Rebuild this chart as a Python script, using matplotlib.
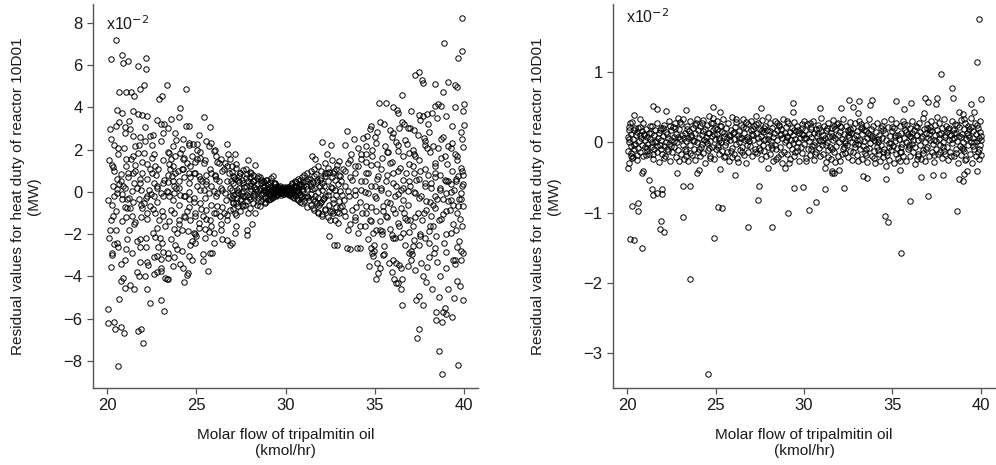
import matplotlib.pyplot as plt
import numpy as np

plt.rcParams["font.family"] = ["Liberation Sans", "DejaVu Sans"]

# residuals in units of 1e-2 MW
LEFT_OUTER = [
    (20.47, 7.17), (20.19, 6.26), (20.80, 6.47), (20.89, 6.07), (21.17, 6.18), (21.70, 5.95),
    (22.18, 6.31), (22.18, 5.79), (20.63, 4.70), (21.03, 4.70), (21.32, 4.70), (21.51, 4.54),
    (21.85, 4.84), (22.04, 5.03), (20.54, 3.88), (20.84, 3.74), (20.48, 3.11), (20.17, 2.95),
    (21.00, 3.07), (21.21, 3.33), (21.30, 2.98), (21.70, 3.66), (21.94, 3.61), (22.10, 3.07),
    (21.45, 2.65), (21.83, 2.58), (22.09, 2.39), (22.39, 2.63), (22.90, 4.40), (23.05, 4.53),
    (23.34, 5.03), (24.44, 4.84), (24.10, 3.94), (24.03, 3.56), (23.58, 3.46), (22.80, 3.39),
    (23.00, 3.23), (23.20, 3.23), (23.10, 2.79), (24.40, 3.13), (24.58, 3.10), (25.40, 3.54),
    (25.76, 3.07), (25.16, 2.71), (20.35, 2.20), (20.60, 2.05), (20.95, 2.05), (21.58, 2.16),
    (21.70, 1.84), (22.05, 1.83), (22.52, 2.20), (22.60, 1.77), (20.09, 1.51), (20.24, 1.26),
    (20.30, 1.17), (21.04, 1.53), (21.34, 1.56), (21.56, 1.29), (20.78, 0.84), (21.17, 0.87),
    (21.43, 0.90), (21.96, 0.90), (22.37, 1.06), (22.67, 1.21), (22.74, 0.82), (23.20, 0.58),
    (23.41, 0.46),
    (20.04, -0.39), (20.19, -1.31), (20.30, -1.15), (20.48, -1.78), (20.11, -2.17), (20.37, -2.46),
    (20.26, -2.88), (20.56, -2.41), (20.19, -3.54), (20.75, -3.39), (20.78, -4.19), (20.87, -4.06),
    (20.97, -4.54), (21.30, -4.41), (21.51, -4.59), (20.67, -5.06), (20.06, -5.56), (20.06, -6.19),
    (20.37, -6.14), (20.45, -6.50), (20.78, -6.38), (20.93, -6.66), (21.75, -6.58), (21.88, -6.50),
    (22.00, -7.15), (20.60, -8.24), (21.66, -3.78), (21.77, -4.00), (22.12, -3.98), (21.68, -2.33),
    (21.86, -2.25), (22.18, -2.19), (21.85, -2.60), (21.08, -2.25), (21.04, -2.69), (22.25, -3.32),
    (22.31, -3.45), (22.20, -4.59), (22.39, -5.24), (22.99, -5.09), (23.17, -5.64), (22.55, -1.94),
    (22.66, -2.13), (22.83, -2.60), (23.05, -2.41), (22.80, -3.02), (22.99, -3.17), (23.13, -2.83),
    (23.38, -3.12), (22.60, -3.89), (22.77, -3.80), (23.04, -3.72), (23.26, -4.06), (23.34, -4.14),
    (23.43, -4.11), (23.67, -3.51), (23.73, -3.09), (23.91, -2.72), (24.10, -3.43), (24.25, -3.59),
    (24.45, -3.91), (24.30, -4.28), (24.52, -3.83), (24.57, -3.04), (24.78, -3.20), (23.91, -1.94),
    (23.58, -2.25), (24.19, -1.78), (24.52, -1.86), (24.84, -1.94), (24.73, -2.33), (24.94, -2.41),
    (24.90, -2.00), (25.37, -2.96), (25.35, -3.28), (25.63, -3.72), (25.74, -2.88), (25.89, -2.88),
    (25.96, -1.94), (25.16, -1.73), (25.50, -1.75), (25.70, -1.89),
    (37.39, -6.93), (37.49, -6.50), (37.71, -5.37), (37.30, -5.09), (37.50, -4.90), (37.71, -3.96),
    (37.90, -4.27), (37.96, -3.54), (38.20, -4.59), (38.59, -4.98), (38.45, -5.67), (38.45, -6.04),
    (38.77, -6.14), (38.83, -5.69), (38.96, -5.51), (39.01, -5.75), (39.31, -5.92), (38.60, -7.53),
    (38.79, -8.63), (39.68, -8.20), (38.68, -3.96), (39.10, -4.57), (39.64, -4.22), (39.77, -4.43),
    (39.96, -5.13), (39.46, -5.01), (39.38, -3.24), (39.85, -3.23), (39.50, -3.20), (39.00, -2.82),
    (38.90, -2.41), (39.28, -1.94), (39.75, -2.33), (39.83, -2.80), (39.79, -1.26), (39.42, -1.54),
    (39.55, -1.78), (38.41, -2.65), (38.32, -2.88), (38.26, -1.62), (38.07, -1.86), (37.80, -2.19),
    (38.07, -2.41), (37.15, -2.57), (37.05, -2.80), (37.10, -2.96), (36.92, -2.88), (37.20, -2.28),
    (37.52, -1.97), (36.85, -3.51), (37.28, -3.70), (37.57, -3.36), (36.53, -4.11), (36.33, -4.30),
    (36.22, -4.33), (36.50, -4.59), (36.53, -5.36), (35.99, -3.80), (36.07, -4.11), (35.81, -3.36),
    (36.22, -3.36), (36.37, -3.48), (35.53, -2.96), (35.54, -2.57), (35.29, -3.59), (35.19, -3.83),
    (35.08, -4.14), (35.12, -3.36), (34.68, -3.51), (34.95, -2.49), (34.80, -2.65), (34.87, -2.91),
    (34.91, -3.01), (34.63, -2.25), (34.16, -2.65), (34.02, -2.65), (33.42, -2.65), (33.61, -2.72),
    (32.86, -2.49), (32.73, -2.49), (32.45, -2.09), (36.13, -2.17), (35.96, -2.02), (36.40, -2.13),
    (36.59, -1.94), (36.68, -2.52), (35.29, -1.78), (35.43, -1.83), (35.88, -1.75),
    (39.87, 8.23), (38.88, 7.02), (39.89, 6.64), (39.68, 6.34), (39.50, 5.03), (39.61, 4.97),
    (39.14, 5.20), (38.83, 4.71), (38.38, 5.12), (39.99, 4.17), (38.55, 4.17), (38.73, 4.08),
    (38.36, 4.08), (38.21, 3.72), (37.96, 3.66), (37.71, 3.58), (37.46, 3.61), (37.28, 5.52),
    (37.49, 5.66), (37.65, 5.27), (37.71, 5.14), (36.53, 4.60), (35.23, 4.21), (35.66, 4.19),
    (36.05, 4.02), (36.24, 3.86), (36.33, 3.73), (37.05, 3.81), (35.32, 3.29), (34.82, 3.10),
    (34.72, 2.99), (34.58, 2.63), (35.15, 2.82), (35.88, 2.91), (36.00, 2.79), (36.38, 3.02),
    (36.67, 3.23), (36.87, 3.02), (36.72, 2.47), (37.22, 2.90), (37.44, 2.69), (37.74, 2.55),
    (38.07, 2.82), (38.83, 2.58), (39.14, 2.16), (39.29, 2.06), (38.97, 1.69), (39.53, 1.81),
    (39.33, 3.13), (39.99, 3.18), (39.82, 2.83), (39.91, 2.50), (39.85, 1.13), (39.96, 0.82),
    (39.66, 0.74), (39.57, 0.50), (39.12, 0.50), (38.36, 1.37), (38.41, 0.90), (38.68, 0.80),
    (38.92, 0.58), (38.56, 2.08), (38.26, 2.19), (37.84, 2.20), (37.96, 2.08), (32.06, 2.38),
    (32.53, 2.20), (31.50, 1.69), (31.65, 1.56), (32.30, 1.77), (33.46, 2.87), (33.83, 2.48),
    (33.33, 2.20), (33.66, 1.81), (34.04, 2.08), (34.32, 2.55), (34.50, 2.16), (34.54, 1.81),
    (34.86, 1.69), (35.05, 2.29), (35.56, 2.16), (35.69, 1.88), (36.18, 2.35), (36.31, 1.92),
    (36.83, 2.27), (36.94, 1.84), (37.15, 2.00), (37.28, 1.69), (39.60, 1.69),
]

LEFT_MID = [
    (23.86, 2.47), (23.69, 2.16), (23.45, 1.84), (23.60, 1.53), (23.82, 1.69), (24.07, 1.84),
    (24.20, 2.03), (24.25, 1.53), (24.47, 1.37), (24.57, 2.32), (24.81, 2.28), (25.03, 2.28),
    (24.75, 1.69), (25.03, 1.56), (25.22, 1.59), (25.44, 1.37), (25.68, 2.16), (25.83, 2.32),
    (25.96, 1.92), (26.11, 1.69), (26.24, 1.37), (26.37, 1.56), (26.71, 2.28), (26.75, 1.81),
    (26.90, 1.56), (27.16, 1.81), (26.62, 1.37), (26.99, 1.21), (27.23, 1.13), (27.42, 0.90),
    (27.88, 1.50), (28.30, 1.29), (27.79, 1.06), (28.07, 0.90), (28.45, 0.74), (28.73, 0.50),
    (28.92, 0.58), (29.29, 0.77), (29.38, 0.43), (24.20, 1.06), (24.57, 0.90), (24.85, 0.90),
    (25.13, 0.74), (25.31, 0.50), (25.56, 0.39), (25.82, 0.90), (26.06, 0.74), (26.24, 0.50),
    (26.52, 1.06), (26.80, 0.90), (27.08, 0.74), (27.36, 0.58), (27.64, 0.43), (27.98, 0.27),
    (28.20, 0.50), (23.54, 1.09), (23.82, 0.90), (23.63, 0.74), (24.01, 0.50), (23.73, 0.27),
    (23.36, 0.03), (23.45, -0.20), (23.73, -0.05), (24.10, -0.17), (24.38, -0.20), (24.57, -0.36),
    (24.85, -0.28), (25.22, -0.52), (25.44, 0.11), (25.68, -0.05), (25.96, 0.03), (26.15, -0.05),
    (26.43, 0.11), (26.62, -0.05), (26.90, 0.19), (27.08, -0.13), (27.27, 0.11), (27.55, -0.05),
    (27.73, -0.20), (28.01, 0.03), (28.30, -0.13), (28.57, 0.11), (28.76, -0.05), (28.95, 0.19),
    (29.13, 0.03), (29.50, -0.13), (29.69, 0.11), (29.88, -0.02), (30.06, 0.19), (30.25, -0.05),
    (30.44, 0.11), (30.62, 0.03), (30.81, -0.13), (31.00, 0.27), (31.18, -0.20), (31.37, 0.43),
    (31.55, -0.36), (31.74, 0.58), (31.93, -0.52),
    (22.42, -0.68), (22.65, -0.99), (22.89, -1.31), (23.13, -1.15), (23.26, -1.62), (23.60, -0.84),
    (23.73, -1.75), (24.01, -1.31), (24.29, -1.15), (24.47, -0.91), (24.66, -1.31), (24.94, -1.15),
    (25.13, -1.46), (25.35, -1.15), (25.56, -0.84), (25.78, -1.31), (25.96, -0.99), (26.15, -0.68),
    (26.30, -1.15), (26.37, -1.54), (26.56, -0.99), (26.71, -1.31), (26.90, -0.84), (27.05, -0.52),
    (27.18, -0.99), (27.36, -0.68), (27.49, -0.36), (27.73, -0.60), (27.92, -0.99), (28.10, -1.54),
    (27.82, -1.78), (27.86, -2.06), (28.30, -0.99), (28.57, -0.68), (28.85, -0.52), (29.13, -0.36),
    (26.43, -2.25), (26.71, -2.28), (26.86, -2.49), (26.99, -2.44), (27.16, -1.94), (27.20, -1.62),
    (21.12, -0.36), (21.30, -0.76), (21.08, -0.76), (21.39, -1.15), (21.58, -1.43), (21.77, -0.36),
    (21.96, -0.76), (22.05, -0.52), (22.24, -0.99), (20.84, -0.36), (20.56, -0.05), (20.37, -0.20),
    (20.65, 0.35), (20.89, 0.27), (21.39, 0.03), (21.68, 0.19), (21.86, 0.43), (22.33, 0.11),
    (22.60, -0.20), (22.80, 0.27), (23.04, -0.05),
    (31.93, 0.58), (32.21, 0.90), (32.40, 1.13), (32.68, 0.90), (32.86, 1.29), (33.05, 0.74),
    (33.24, 1.06), (33.52, 1.37), (33.71, 0.58), (33.90, 0.90), (34.07, 1.21), (34.26, 1.53),
    (34.45, 0.50), (34.64, 0.90), (34.82, 1.29), (35.00, 0.27), (35.19, 0.74), (35.38, 1.06),
    (35.62, 0.50), (35.84, 1.37), (36.03, 0.90), (36.22, 0.27), (36.40, 1.13), (36.59, 0.58),
    (36.77, 0.90), (36.96, 0.27), (37.15, 1.21), (37.34, 0.58), (37.56, 0.98), (37.80, 0.43),
    (37.99, 0.82), (38.17, 0.19), (38.64, 0.11), (39.01, -0.05), (39.47, 0.11), (39.75, -0.36),
    (39.85, -0.33), (39.12, -0.44), (38.81, -0.36), (38.47, -0.36), (38.28, -0.60), (37.90, -0.44),
    (37.62, -0.20), (37.25, -0.05), (36.87, 0.03), (36.50, 0.11), (36.13, -0.20), (35.75, -0.05),
    (35.38, 0.11), (35.00, -0.20), (34.63, -0.05), (34.26, 0.11), (33.88, -0.13), (33.52, 0.03),
    (33.14, -0.13), (32.77, 0.11), (32.40, -0.13), (32.12, -0.36), (31.74, -0.52), (31.55, -0.76),
    (31.83, -0.99), (32.02, -1.15), (32.21, -0.84), (32.49, -1.31), (32.68, -0.99), (32.96, -1.46),
    (33.14, -0.68), (33.33, -1.15), (33.52, -1.78), (33.71, -0.84), (33.90, -1.31), (34.09, -1.94),
    (34.28, -0.99), (34.45, -1.62), (34.54, -0.68), (34.73, -1.31), (34.91, -1.94), (35.10, -0.91),
    (35.29, -1.39), (35.47, -0.68), (35.66, -1.15), (35.88, -0.52), (36.13, -0.99), (36.31, -1.46),
    (36.50, -0.76), (36.68, -1.23), (36.81, -1.31), (36.96, -1.31), (37.15, -1.62), (37.43, -0.99),
    (37.67, -1.31), (37.90, -0.84), (38.14, -1.15), (38.36, -0.76), (38.60, -1.31), (38.83, -1.07),
    (39.20, -0.84), (39.38, -0.60), (39.66, -0.68), (39.94, -0.68), (39.85, -0.05), (39.94, 0.35),
    (39.29, 0.35),
]

LEFT_FILL = [
    (20.31, 0.30), (20.28, -0.60), (20.35, 1.00), (20.52, 0.15), (20.49, -0.90), (20.55, 0.60),
    (20.81, -0.10), (20.77, 0.50), (20.83, -1.40), (21.02, 0.20), (20.98, -0.70), (21.05, 1.20),
    (21.21, -0.30), (21.18, 0.70), (21.24, -1.80), (21.51, 0.40), (21.47, -0.50), (21.53, 1.00),
    (21.49, -1.50), (21.91, 0.10), (21.88, -0.60), (21.94, 1.40), (21.90, -1.20), (22.21, 0.60),
    (22.18, -0.30), (22.24, -1.30), (22.20, 1.30), (22.51, 0.90), (22.48, -0.10), (22.54, -0.80),
    (22.50, 1.60), (22.81, 0.20), (22.78, -0.50), (22.84, 1.10), (22.80, -1.70), (23.11, 0.40),
    (23.08, -0.90), (23.14, 1.50), (23.10, -0.20), (23.41, 0.00), (23.38, 0.80), (23.44, -1.40),
    (23.40, 1.90), (23.71, 0.50), (23.68, -0.40), (23.74, -1.00), (23.70, 1.20), (24.01, 0.20),
    (23.98, 1.00), (24.04, -0.60), (24.00, -1.50), (24.31, 0.70), (24.28, -0.20), (24.34, -1.20),
    (24.30, 1.60), (24.61, 0.40), (24.58, -0.70), (24.64, 1.20), (24.60, 0.00), (24.91, 0.90),
    (24.88, -0.50), (24.94, 1.40), (24.90, -1.00), (25.21, 0.10), (25.18, 0.60), (25.24, -0.80),
    (25.20, 1.90), (25.51, 0.80), (25.48, -0.30), (25.54, -1.30), (25.50, 1.50), (25.81, 0.30),
    (25.78, 1.10), (25.84, -0.60), (25.80, -1.60), (26.11, 0.60), (26.08, -0.20), (26.14, 1.40),
    (26.10, -1.00), (26.41, 1.00), (26.38, 0.20), (26.44, -0.70), (26.40, -1.80), (26.71, 0.50),
    (26.68, -0.40), (26.74, 1.20), (26.70, -1.10),
    (33.31, 0.30), (33.28, -0.40), (33.34, 1.00), (33.30, -0.90), (33.61, 0.70), (33.58, -0.20),
    (33.64, 1.50), (33.60, -1.50), (33.91, 0.10), (33.88, 1.20), (33.94, -0.70), (33.90, -1.20),
    (34.21, 0.50), (34.18, -0.50), (34.24, 1.80), (34.20, -1.60), (34.51, 0.90), (34.48, 0.00),
    (34.54, -1.00), (34.50, 1.40), (34.81, 0.30), (34.78, -0.70), (34.84, 2.00), (34.80, -1.40),
    (35.11, 0.60), (35.08, -0.30), (35.14, 1.30), (35.10, -1.80), (35.41, 1.60), (35.38, 0.20),
    (35.44, -0.90), (35.40, -2.00), (35.71, 0.80), (35.68, -0.50), (35.74, 1.90), (35.70, -1.20),
    (36.01, 0.40), (35.98, 1.40), (36.04, -0.80), (36.00, -2.20), (36.31, 1.00), (36.28, -0.10),
    (36.34, -1.60), (36.30, 2.20), (36.61, 0.20), (36.58, 1.70), (36.64, -1.00), (36.60, -0.40),
    (36.91, 1.30), (36.88, -0.60), (36.94, 0.50), (36.90, -1.90), (37.21, 0.00), (37.18, 1.80),
    (37.24, -1.20), (37.20, 0.90), (37.51, 1.50), (37.48, -0.30), (37.54, -2.10), (37.50, 0.60),
    (37.81, 0.30), (37.78, -1.00), (37.84, 1.10), (37.80, 2.40), (38.11, 1.90), (38.08, -0.50),
    (38.14, 0.40), (38.10, -1.60), (38.41, -0.20), (38.38, 1.20), (38.44, -2.10), (38.40, 0.70),
    (38.71, 1.60), (38.68, 0.20), (38.74, -1.30), (38.70, 2.50), (39.01, 0.50), (38.98, -0.90),
    (39.04, 1.30), (39.00, -2.00), (39.31, 1.00), (39.28, -0.40), (39.34, 2.30), (39.30, 0.00),
    (39.61, -1.00), (39.58, 0.60), (39.64, 1.50), (39.60, -2.60), (39.91, 0.30), (39.88, -1.60),
    (39.94, 2.10), (39.90, 1.00),
    (20.22, 2.50), (20.18, -1.80), (20.24, -3.00), (20.62, 1.80), (20.58, -2.60), (20.64, 3.30),
    (21.02, 2.80), (20.98, -3.20), (21.04, -1.20), (21.42, 1.70), (21.38, -2.90), (21.44, 3.80),
    (21.82, -3.30), (21.78, 2.20), (21.84, 0.60), (22.22, 3.60), (22.18, -2.60), (22.24, -0.20),
    (22.62, -3.10), (22.58, 2.70), (22.64, 0.40), (23.02, 2.40), (22.98, -2.20), (23.04, -3.60),
    (23.42, 3.00), (23.38, -2.90), (23.44, 1.30), (23.82, -2.50), (23.78, 2.80), (23.84, 0.20),
    (24.22, 2.50), (24.18, -2.80), (24.24, 1.10), (24.62, -2.50), (24.58, 2.20), (24.64, 0.70),
    (25.02, 2.00), (24.98, -2.10), (25.04, 0.30), (25.52, 2.40), (25.48, -2.20), (25.54, 0.50),
    (26.02, 2.00), (25.98, -2.40), (26.04, 0.80),
    (35.02, 2.60), (34.98, -2.80), (35.52, 3.20), (35.48, -3.00), (36.02, -3.20), (35.98, 2.60),
    (36.52, 3.30), (36.48, -3.60), (37.02, -3.20), (36.98, 3.00), (37.52, 3.40), (37.48, -2.50),
    (38.02, -3.10), (37.98, 3.20), (38.52, 3.50), (38.48, -3.30), (39.02, -3.60), (38.98, 3.60),
    (39.52, 4.00), (39.48, -3.40), (39.98, -2.90), (39.95, 3.80),
]

LEFT_CORE = [
    (27.01, 0.95), (27.04, 0.40), (26.98, -0.30), (27.06, -0.80), (27.02, 0.10),
    (27.21, 1.30), (27.18, 0.60), (27.24, -0.10), (27.20, -0.55), (27.22, -1.10),
    (27.41, 0.75), (27.38, 0.20), (27.44, -0.40), (27.40, 0.45), (27.42, -0.90),
    (27.61, 1.05), (27.58, 0.55), (27.64, -0.20), (27.60, -0.65), (27.62, 0.05),
    (27.81, 0.85), (27.78, 0.30), (27.84, -0.45), (27.80, 0.65), (27.82, -0.15),
    (28.01, 0.70), (27.98, 0.95), (28.04, 0.15), (28.00, -0.35), (28.02, -0.75),
    (28.21, 0.50), (28.18, 0.80), (28.24, -0.05), (28.20, -0.55), (28.22, 0.25),
    (28.41, 0.65), (28.38, 0.35), (28.44, -0.30), (28.40, -0.60), (28.42, 0.05),
    (28.61, 0.55), (28.58, 0.20), (28.64, -0.15), (28.60, -0.45), (28.62, 0.40),
    (28.81, 0.45), (28.78, 0.10), (28.84, -0.30), (28.80, 0.30), (28.82, -0.50),
    (29.01, 0.35), (28.98, 0.55), (29.04, 0.00), (29.00, -0.25), (29.02, -0.40),
    (29.11, 0.20), (29.08, -0.10), (29.14, 0.45), (29.10, -0.35),
    (29.21, 0.30), (29.18, 0.05), (29.24, -0.20), (29.20, 0.65), (29.22, -0.30),
    (29.31, 0.15), (29.28, -0.05), (29.34, 0.40), (29.30, -0.25),
    (29.41, 0.25), (29.38, 0.00), (29.44, -0.15), (29.40, 0.35),
    (29.51, 0.10), (29.48, -0.20), (29.54, 0.30), (29.50, 0.20),
    (29.61, 0.15), (29.58, -0.10), (29.64, 0.25), (29.60, 0.05),
    (29.71, 0.05), (29.68, 0.20), (29.74, -0.15), (29.70, 0.30),
    (29.81, 0.10), (29.78, -0.05), (29.84, 0.20), (29.80, 0.00),
    (29.91, 0.15), (29.88, 0.05), (29.94, -0.10), (29.90, 0.25),
    (30.01, 0.00), (29.98, 0.10), (30.04, -0.05), (30.00, 0.20),
    (30.11, 0.05), (30.08, 0.25), (30.14, -0.10), (30.10, 0.15),
    (30.21, 0.10), (30.18, -0.15), (30.24, 0.30), (30.20, 0.00),
    (30.31, 0.20), (30.28, -0.05), (30.34, 0.35), (30.30, -0.20),
    (30.41, 0.15), (30.38, 0.40), (30.44, -0.25), (30.40, 0.00),
    (30.51, 0.30), (30.48, -0.10), (30.54, 0.50), (30.50, -0.30),
    (30.61, 0.45), (30.58, 0.10), (30.64, -0.35), (30.60, 0.25),
    (30.71, 0.20), (30.68, 0.60), (30.74, -0.15), (30.70, -0.40),
    (30.81, 0.55), (30.78, 0.00), (30.84, 0.30), (30.80, -0.50),
    (30.91, 0.70), (30.88, 0.35), (30.94, -0.20), (30.90, -0.55),
    (31.01, 0.80), (30.98, 0.10), (31.04, -0.45), (31.00, 0.45),
    (31.21, 0.90), (31.18, 0.50), (31.24, -0.25), (31.20, -0.70), (31.22, 0.15),
    (31.41, 1.00), (31.38, 0.60), (31.44, -0.10), (31.40, -0.60), (31.42, 0.30),
    (31.61, 0.75), (31.58, 0.20), (31.64, -0.45), (31.60, -0.85), (31.62, 1.10),
    (31.81, 1.20), (31.78, 0.45), (31.84, -0.30), (31.80, -0.95), (31.82, 0.00),
    (32.01, 1.00), (31.98, 0.65), (32.04, 0.10), (32.00, -0.50), (32.02, -1.05),
    (32.21, 1.35), (32.18, 0.30), (32.24, -0.20), (32.20, -0.80), (32.22, 0.75),
    (32.41, 0.95), (32.38, 0.50), (32.44, -0.60), (32.40, -1.20), (32.42, 0.05),
    (32.61, 1.50), (32.58, 0.20), (32.64, -0.35), (32.60, -0.90), (32.62, 0.70),
    (32.81, 1.10), (32.78, 0.55), (32.84, -0.15), (32.80, -1.35), (32.82, -0.70),
    (33.01, 1.45), (32.98, 0.80), (33.04, 0.05), (33.00, -0.45), (33.02, -1.00),
]

LEFT_CORE_EXTRA = [
    (28.05, 0.42), (28.15, -0.20), (28.33, 0.12), (28.47, -0.45), (28.55, 0.70), (28.69, -0.10),
    (28.75, 0.22), (28.87, -0.20), (28.93, 0.05), (29.05, 0.15), (29.15, -0.15), (29.27, 0.10),
    (29.35, -0.10), (29.45, 0.05), (29.55, -0.05), (29.65, 0.00), (29.75, 0.10), (29.85, -0.12),
    (29.95, 0.05), (30.05, -0.02), (30.15, 0.12), (30.25, -0.12), (30.35, 0.05), (30.45, 0.25),
    (30.55, -0.15), (30.65, 0.05), (30.75, 0.35), (30.85, -0.25), (30.95, 0.15), (31.07, -0.25),
    (31.13, 0.30), (31.27, 0.60), (31.33, -0.40), (31.47, 0.15), (31.53, 0.45), (31.67, -0.20),
    (31.73, 0.85), (31.87, -0.60), (31.93, 0.30), (27.93, -0.25), (27.87, 0.50), (27.67, 0.25),
    (27.53, -0.60), (27.47, 0.90), (27.33, 0.00), (27.27, -0.30), (27.13, 0.70), (27.07, -0.50),
    (32.07, 0.40), (32.13, -0.30), (32.33, 0.90), (32.47, -0.90), (32.53, 0.25), (32.67, -0.55),
    (32.73, 1.00), (32.93, 0.35), (32.87, -0.95), (26.93, 0.50), (26.87, -0.20), (33.13, 0.50),
    (33.07, -0.70),
]

RIGHT_OUTER = [
    (39.87, 1.76), (39.76, 1.14), (37.74, 0.97), (38.36, 0.78), (38.45, 0.64), (40.00, 0.62),
    (36.82, 0.64), (37.01, 0.57), (37.53, 0.64), (37.44, 0.55), (39.44, 0.55), (35.20, 0.59),
    (33.83, 0.61), (33.74, 0.53), (33.12, 0.59), (32.52, 0.60), (32.09, 0.49), (32.75, 0.51),
    (33.03, 0.42), (30.93, 0.49), (29.35, 0.56), (29.40, 0.44), (27.57, 0.49), (24.86, 0.50),
    (25.23, 0.44), (24.62, 0.38), (24.86, 0.35), (23.33, 0.46), (21.46, 0.52), (21.68, 0.47),
    (22.19, 0.45), (20.75, 0.33), (20.37, 0.39), (35.66, 0.48), (36.07, 0.56), (36.79, 0.42),
    (38.79, 0.43), (38.97, 0.41), (39.63, 0.43), (39.07, 0.34),
    (20.04, -0.36), (20.13, -0.29), (20.24, -0.20), (20.32, -0.21), (20.90, -0.41), (20.86, -0.43),
    (21.25, -0.54), (21.40, -0.66), (21.44, -0.75), (21.68, -0.72), (21.96, -0.67), (21.96, -0.74),
    (20.28, -0.90), (20.62, -0.86), (20.62, -0.98), (20.17, -1.37), (20.37, -1.39), (20.84, -1.50),
    (21.87, -1.24), (21.94, -1.12), (22.11, -1.27), (22.80, -0.43), (23.14, -0.62), (23.14, -1.06),
    (23.55, -0.62), (23.57, -1.94), (23.93, -0.44), (24.04, -0.40), (24.58, -3.30), (24.92, -1.36),
    (25.14, -0.92), (25.36, -0.94), (25.23, -0.38), (26.09, -0.47), (26.82, -1.20), (27.42, -0.82),
    (27.46, -0.62), (28.17, -1.21), (27.96, -0.37), (29.08, -1.01), (29.46, -0.65), (29.93, -0.63),
    (30.28, -0.96), (30.69, -0.85), (31.21, -0.66), (32.24, -0.65), (34.58, -1.05), (34.77, -1.13),
    (35.51, -1.58), (36.00, -0.84), (37.01, -0.77), (38.65, -0.98), (38.75, -0.52), (38.97, -0.55),
    (39.07, -0.45), (39.22, -0.41), (39.78, -0.41), (36.64, -0.49), (37.29, -0.47), (37.85, -0.47),
    (35.40, -0.40), (34.65, -0.52), (33.36, -0.48), (33.55, -0.51), (31.59, -0.44), (31.70, -0.43),
    (31.59, -0.41), (32.00, -0.39), (28.93, -0.36), (31.21, -0.37),
]

RIGHT_BAND = [
    (20.02, 0.08), (20.06, -0.12), (20.09, 0.18), (20.12, 0.00), (20.15, 0.27), (20.19, -0.05),
    (20.23, 0.12), (20.27, -0.22), (20.30, 0.29), (20.34, 0.05), (20.38, -0.10), (20.42, 0.20),
    (20.46, -0.02), (20.50, 0.10), (20.54, -0.18), (20.58, 0.15), (20.62, -0.08), (20.66, 0.02),
    (20.70, 0.22), (20.74, -0.14), (20.78, 0.06), (20.82, -0.04), (20.86, 0.16), (20.90, -0.20),
    (20.94, 0.10), (20.98, -0.06), (21.02, 0.03), (21.06, 0.19), (21.10, -0.12), (21.14, 0.08),
    (21.18, -0.02), (21.22, 0.14), (21.26, -0.16), (21.30, 0.05), (21.34, -0.07), (21.38, 0.23),
    (21.42, 0.00), (21.46, -0.24), (21.50, 0.11), (21.54, -0.09), (21.58, 0.17), (21.62, 0.02),
    (21.66, -0.13), (21.70, 0.27), (21.74, 0.07), (21.78, -0.28), (21.82, 0.13), (21.86, -0.03),
    (21.90, 0.21), (21.94, 0.04), (21.98, -0.17), (22.02, 0.09), (22.06, -0.05), (22.10, 0.25),
    (22.14, -0.19), (22.18, 0.01), (22.22, 0.15), (22.26, -0.10), (22.30, 0.06), (22.34, 0.31),
    (22.38, -0.02), (22.42, -0.26), (22.46, 0.18), (22.50, 0.03), (22.54, -0.14), (22.58, 0.22),
    (22.62, 0.08), (22.66, -0.07), (22.70, 0.28), (22.74, -0.21), (22.78, 0.12), (22.82, 0.00),
    (22.86, 0.35), (22.90, -0.11), (22.94, 0.19), (22.98, 0.05), (23.02, -0.16), (23.06, 0.26),
    (23.10, 0.10), (23.14, -0.04), (23.18, 0.33), (23.22, -0.23), (23.26, 0.14), (23.30, 0.02),
    (23.34, -0.12), (23.38, 0.24), (23.42, 0.07), (23.46, -0.27), (23.50, 0.16), (23.54, -0.03),
    (23.58, 0.30), (23.62, 0.11), (23.66, -0.18), (23.70, 0.04), (23.74, 0.21), (23.78, -0.09),
    (23.82, 0.13), (23.86, -0.25), (23.90, 0.27), (23.94, 0.01), (23.98, -0.13), (24.02, 0.18),
    (24.06, 0.06), (24.10, -0.20), (24.14, 0.23), (24.18, -0.06), (24.22, 0.10), (24.26, 0.32),
    (24.30, -0.15), (24.34, 0.04), (24.38, 0.19), (24.42, -0.30), (24.46, 0.08), (24.50, -0.01),
    (24.54, 0.25), (24.58, -0.11), (24.62, 0.14), (24.66, 0.02), (24.70, -0.19), (24.74, 0.28),
    (24.78, 0.09), (24.82, -0.07), (24.86, 0.17), (24.90, -0.24), (24.94, 0.05), (24.98, 0.21),
    (25.02, -0.10), (25.06, 0.12), (25.10, 0.30), (25.14, -0.03), (25.18, 0.07), (25.22, -0.17),
    (25.26, 0.24), (25.30, 0.01), (25.34, -0.12), (25.38, 0.15), (25.42, 0.33), (25.46, -0.21),
    (25.50, 0.09), (25.54, -0.04), (25.58, 0.20), (25.62, 0.06), (25.66, -0.14), (25.70, 0.27),
    (25.74, 0.11), (25.78, -0.27), (25.82, 0.03), (25.86, 0.18), (25.90, -0.08), (25.94, 0.36),
    (25.98, 0.13), (26.02, -0.16), (26.06, 0.05), (26.10, 0.22), (26.14, -0.02), (26.18, 0.29),
    (26.22, -0.22), (26.26, 0.10), (26.30, 0.00), (26.34, 0.16), (26.38, -0.11), (26.42, 0.25),
    (26.46, 0.07), (26.50, -0.06), (26.54, 0.34), (26.58, -0.18), (26.62, 0.14), (26.66, 0.03),
    (26.70, -0.29), (26.74, 0.20), (26.78, 0.08), (26.82, -0.13), (26.86, 0.26), (26.90, 0.02),
    (26.94, -0.05), (26.98, 0.17), (27.02, 0.31), (27.06, -0.20), (27.10, 0.11), (27.14, 0.04),
    (27.18, 0.23), (27.22, -0.09), (27.26, 0.37), (27.30, 0.13), (27.34, -0.15), (27.38, 0.06),
    (27.42, 0.28), (27.46, 0.00), (27.50, 0.19), (27.54, -0.24), (27.58, 0.09), (27.62, 0.32),
    (27.66, -0.04), (27.70, 0.15), (27.74, -0.12), (27.78, 0.24), (27.82, 0.05), (27.86, -0.19),
    (27.90, 0.18), (27.94, 0.36), (27.98, -0.07), (28.02, 0.11), (28.06, 0.27), (28.10, -0.16),
    (28.14, 0.02), (28.18, 0.21), (28.22, -0.27), (28.26, 0.08), (28.30, 0.14), (28.34, -0.03),
    (28.38, 0.30), (28.42, -0.10), (28.46, 0.17), (28.50, 0.04), (28.54, -0.21), (28.58, 0.25),
    (28.62, 0.10), (28.66, -0.06), (28.70, 0.19), (28.74, -0.30), (28.78, 0.06), (28.82, 0.33),
    (28.86, -0.13), (28.90, 0.13), (28.94, 0.00), (28.98, 0.22), (29.02, -0.17), (29.06, 0.08),
    (29.10, 0.27), (29.14, -0.04), (29.18, 0.15), (29.22, -0.24), (29.26, 0.03), (29.30, 0.20),
    (29.34, -0.09), (29.38, 0.11), (29.42, 0.29), (29.46, -0.19), (29.50, 0.05), (29.54, 0.16),
    (29.58, -0.12), (29.62, 0.24), (29.66, 0.01), (29.70, -0.27), (29.74, 0.13), (29.78, 0.07),
    (29.82, -0.06), (29.86, 0.21), (29.90, -0.15), (29.94, 0.10), (29.98, 0.30), (30.02, -0.02),
    (30.06, 0.17), (30.10, -0.22), (30.14, 0.06), (30.18, 0.26), (30.22, -0.10), (30.26, 0.12),
    (30.30, 0.02), (30.34, -0.18), (30.38, 0.22), (30.42, 0.08), (30.46, -0.05), (30.50, 0.31),
    (30.54, -0.25), (30.58, 0.14), (30.62, 0.00), (30.66, 0.19), (30.70, -0.13), (30.74, 0.09),
    (30.78, 0.25), (30.82, -0.08), (30.86, 0.04), (30.90, -0.20), (30.94, 0.16), (30.98, 0.35),
    (31.02, -0.03), (31.06, 0.11), (31.10, -0.16), (31.14, 0.23), (31.18, 0.06), (31.22, -0.28),
    (31.26, 0.18), (31.30, 0.01), (31.34, -0.11), (31.38, 0.28), (31.42, 0.09), (31.46, -0.07),
    (31.50, 0.14), (31.54, -0.23), (31.58, 0.21), (31.62, 0.03), (31.66, 0.32), (31.70, -0.14),
    (31.74, 0.07), (31.78, 0.19), (31.82, -0.05), (31.86, 0.26), (31.90, -0.19), (31.94, 0.10),
    (31.98, 0.00), (32.02, 0.15), (32.06, -0.27), (32.10, 0.22), (32.14, 0.05), (32.18, -0.09),
    (32.22, 0.34), (32.26, 0.12), (32.30, -0.15), (32.34, 0.02), (32.38, 0.24), (32.42, -0.04),
    (32.46, 0.17), (32.50, -0.21), (32.54, 0.08), (32.58, 0.29), (32.62, -0.12), (32.66, 0.13),
    (32.70, 0.00), (32.74, -0.25), (32.78, 0.20), (32.82, 0.06), (32.86, -0.07), (32.90, 0.27),
    (32.94, 0.10), (32.98, -0.18), (33.02, 0.16), (33.06, -0.02), (33.10, 0.31), (33.14, -0.10),
    (33.18, 0.04), (33.22, 0.21), (33.26, -0.24), (33.30, 0.12), (33.34, -0.05), (33.38, 0.18),
    (33.42, 0.02), (33.46, -0.15), (33.50, 0.25), (33.54, 0.07), (33.58, -0.28), (33.62, 0.14),
    (33.66, -0.08), (33.70, 0.33), (33.74, -0.01), (33.78, 0.19), (33.82, -0.20), (33.86, 0.09),
    (33.90, 0.24), (33.94, -0.12), (33.98, 0.03), (34.02, -0.30), (34.06, 0.15), (34.10, -0.06),
    (34.14, 0.28), (34.18, 0.01), (34.22, -0.17), (34.26, 0.11), (34.30, -0.26), (34.34, 0.20),
    (34.38, -0.03), (34.42, 0.06), (34.46, -0.21), (34.50, 0.30), (34.54, -0.09), (34.58, 0.13),
    (34.62, -0.33), (34.66, 0.04), (34.70, -0.14), (34.74, 0.22), (34.78, -0.01), (34.82, -0.25),
    (34.86, 0.09), (34.90, 0.34), (34.94, -0.11), (34.98, 0.16), (35.02, -0.05), (35.06, -0.29),
    (35.10, 0.20), (35.14, 0.02), (35.18, -0.16), (35.22, 0.27), (35.26, -0.08), (35.30, 0.10),
    (35.34, -0.22), (35.38, 0.05), (35.42, 0.23), (35.46, -0.13), (35.50, 0.14), (35.54, -0.02),
    (35.58, 0.31), (35.62, -0.19), (35.66, 0.07), (35.70, 0.18), (35.74, -0.27), (35.78, 0.01),
    (35.82, 0.25), (35.86, -0.10), (35.90, 0.12), (35.94, -0.04), (35.98, 0.21), (36.02, -0.20),
    (36.06, 0.08), (36.10, 0.30), (36.14, -0.14), (36.18, 0.03), (36.22, 0.17), (36.26, -0.07),
    (36.30, -0.31), (36.34, 0.24), (36.38, 0.10), (36.42, -0.17), (36.46, 0.04), (36.50, 0.28),
    (36.54, -0.03), (36.58, 0.15), (36.62, -0.23), (36.66, 0.09), (36.70, 0.35), (36.74, -0.11),
    (36.78, 0.19), (36.82, 0.00), (36.86, -0.26), (36.90, 0.13), (36.94, 0.26), (36.98, -0.06),
    (37.02, 0.07), (37.06, -0.19), (37.10, 0.22), (37.14, 0.03), (37.18, 0.31), (37.22, -0.13),
    (37.26, 0.16), (37.30, -0.02), (37.34, -0.28), (37.38, 0.25), (37.42, 0.10), (37.46, -0.09),
    (37.50, 0.18), (37.54, 0.36), (37.58, -0.16), (37.62, 0.05), (37.66, 0.28), (37.70, -0.04),
    (37.74, 0.13), (37.78, -0.22), (37.82, 0.21), (37.86, 0.00), (37.90, 0.33), (37.94, -0.12),
    (37.98, 0.08), (38.02, 0.24), (38.06, -0.07), (38.10, 0.15), (38.14, -0.25), (38.18, 0.03),
    (38.22, 0.20), (38.26, -0.14), (38.30, 0.11), (38.34, 0.30), (38.38, -0.01), (38.42, 0.17),
    (38.46, -0.20), (38.50, 0.06), (38.54, 0.26), (38.58, -0.10), (38.62, 0.14), (38.66, 0.02),
    (38.70, -0.29), (38.74, 0.22), (38.78, 0.09), (38.82, -0.05), (38.86, 0.32), (38.90, -0.18),
    (38.94, 0.12), (38.98, 0.01), (39.02, 0.19), (39.06, -0.12), (39.10, 0.27), (39.14, 0.05),
    (39.18, -0.23), (39.22, 0.14), (39.26, -0.03), (39.30, 0.24), (39.34, 0.08), (39.38, -0.16),
    (39.42, 0.35), (39.46, 0.00), (39.50, -0.30), (39.54, 0.16), (39.58, 0.06), (39.62, -0.09),
    (39.66, 0.28), (39.70, -0.20), (39.74, 0.12), (39.78, 0.02), (39.82, -0.14), (39.86, 0.21),
    (39.90, 0.07), (39.94, -0.04), (39.97, 0.15), (40.00, -0.18), (39.98, 0.04), (39.93, 0.30),
]

RIGHT_BAND_EXTRA = [
    (20.08, 0.22), (20.40, -0.03), (20.72, 0.11), (21.04, -0.18), (21.36, 0.13), (21.68, -0.05),
    (22.00, 0.20), (22.32, -0.12), (22.64, 0.02), (22.96, 0.29), (23.28, -0.09), (23.60, 0.08),
    (23.92, 0.34), (24.24, -0.02), (24.56, 0.13), (24.88, 0.27), (25.20, 0.04), (25.52, -0.19),
    (25.84, 0.09), (26.16, 0.33), (26.48, -0.14), (26.80, 0.05), (27.12, 0.19), (27.44, -0.08),
    (27.76, 0.03), (28.08, 0.16), (28.40, -0.23), (28.72, 0.12), (29.04, 0.31), (29.36, -0.01),
    (29.68, 0.18), (30.00, 0.07), (30.32, 0.27), (30.64, -0.17), (30.96, 0.02), (31.28, 0.21),
    (31.60, -0.10), (31.92, 0.28), (32.24, -0.06), (32.56, 0.15), (32.88, -0.02), (33.20, 0.26),
    (33.52, -0.18), (33.84, 0.06), (34.16, -0.11), (34.48, 0.17), (34.80, -0.06), (35.12, 0.11),
    (35.44, -0.26), (35.76, 0.15), (36.08, -0.02), (36.40, 0.22), (36.72, -0.15), (37.04, 0.12),
    (37.36, 0.04), (37.68, -0.13), (38.00, 0.10), (38.32, -0.19), (38.64, 0.25), (38.96, -0.08),
    (39.28, 0.11), (39.60, 0.01), (39.92, -0.10),
    (20.11, 0.05), (20.37, 0.17), (20.53, -0.25), (20.91, 0.28), (21.13, -0.08), (21.29, 0.24),
    (21.57, 0.00), (21.83, 0.18), (22.09, -0.22), (22.27, 0.12), (22.47, -0.05), (22.73, 0.20),
    (22.93, -0.27), (23.19, 0.06), (23.37, 0.19), (23.57, -0.15), (23.81, 0.25), (24.07, -0.10),
    (24.29, 0.16), (24.47, 0.02), (24.69, -0.22), (24.93, 0.12), (25.11, -0.06), (25.33, 0.24),
    (25.61, 0.00), (25.87, -0.12), (26.03, 0.15), (26.27, -0.28), (26.57, 0.22), (26.77, -0.03),
    (27.07, 0.12), (27.29, 0.26), (27.53, -0.11), (27.73, 0.21), (27.97, 0.05), (28.21, -0.08),
    (28.49, 0.27), (28.69, -0.16), (28.97, 0.04), (29.17, -0.29), (29.41, 0.17), (29.63, -0.07),
    (29.87, 0.12), (30.13, -0.26), (30.41, 0.19), (30.59, -0.04), (30.87, 0.21), (31.09, 0.03),
    (31.33, -0.21), (31.57, 0.09), (31.77, -0.28), (32.03, 0.24), (32.29, -0.01), (32.51, 0.11),
    (32.77, -0.14), (33.01, 0.03), (33.27, 0.22), (33.49, -0.09), (33.71, 0.11), (33.97, -0.22),
    (34.21, 0.05), (34.43, 0.24), (34.69, -0.18), (34.93, -0.01), (35.17, 0.08), (35.41, -0.13),
    (35.67, 0.26), (35.91, -0.07), (36.13, 0.14), (36.37, -0.24), (36.61, 0.06), (36.87, -0.09),
    (37.13, 0.17), (37.37, -0.18), (37.61, 0.12), (37.87, -0.06), (38.13, 0.19), (38.37, 0.05),
    (38.61, -0.15), (38.87, 0.08), (39.09, -0.25), (39.33, 0.19), (39.57, -0.05), (39.81, 0.25),
    (39.99, 0.09),
    (20.21, -0.15), (20.63, 0.21), (20.97, 0.12), (21.47, -0.17), (21.91, -0.09), (22.41, 0.23),
    (22.87, 0.08), (23.33, -0.19), (23.77, 0.02), (24.21, 0.27), (24.63, -0.08), (25.07, 0.19),
    (25.47, 0.13), (25.91, -0.21), (26.33, 0.06), (26.73, 0.29), (27.21, -0.14), (27.63, 0.17),
    (28.11, -0.04), (28.57, 0.23), (29.01, 0.09), (29.47, -0.13), (29.91, 0.26), (30.37, -0.09),
    (30.81, 0.13), (31.23, -0.03), (31.69, 0.24), (32.13, -0.17), (32.61, 0.19), (33.07, -0.26),
    (33.53, 0.16), (33.99, 0.02), (34.47, -0.13), (34.97, 0.22), (35.47, -0.06), (35.97, 0.09),
    (36.47, -0.19), (36.97, 0.20), (37.47, 0.02), (37.97, -0.16), (38.47, 0.13), (38.97, -0.10),
    (39.47, 0.22), (39.89, -0.23),
]

X_TICKS = [20, 25, 30, 35, 40]
LEFT_Y_TICKS = [-8, -6, -4, -2, 0, 2, 4, 6, 8]
RIGHT_Y_TICKS = [-3, -2, -1, 0, 1]

AXIS_GREY = "#555555"
TEXT_COL = "#1a1a1a"


def split(*groups):
    arr = np.array([p for g in groups for p in g])
    return arr[:, 0], arr[:, 1]


def style_axes(ax, yticks):
    for side in ("top", "right"):
        ax.spines[side].set_visible(False)
    for side in ("left", "bottom"):
        ax.spines[side].set_color(AXIS_GREY)
        ax.spines[side].set_linewidth(1.0)
    ax.set_xticks(X_TICKS)
    ax.set_yticks(yticks)
    ax.tick_params(direction="out", length=4.5, width=0.9, color=AXIS_GREY,
                   labelsize=12, labelcolor=TEXT_COL, pad=3)
    ax.set_xlim(19.2, 40.8)


def draw(ax, xs, ys):
    ax.plot(xs, ys, linestyle="none", marker="o", markersize=3.9, markerfacecolor="none",
            markeredgecolor="black", markeredgewidth=0.7)


fig = plt.figure(figsize=(9.96, 4.65), dpi=100)
ax_l = fig.add_axes([0.0934, 0.1656, 0.3866, 0.8254])
ax_r = fig.add_axes([0.6155, 0.1656, 0.3835, 0.8254])

xl, yl = split(LEFT_OUTER, LEFT_MID, LEFT_FILL, LEFT_CORE, LEFT_CORE_EXTRA)
draw(ax_l, xl, yl)
style_axes(ax_l, LEFT_Y_TICKS)
ax_l.set_ylim(-9.27, 8.87)

xr, yr = split(RIGHT_OUTER, RIGHT_BAND, RIGHT_BAND_EXTRA)
draw(ax_r, xr, yr)
style_axes(ax_r, RIGHT_Y_TICKS)
ax_r.set_ylim(-3.5, 1.97)

ylab = "Residual values for heat duty of reactor 10D01\n(MW)"
xlab = "Molar flow of tripalmitin oil\n(kmol/hr)"
for ax, xpos in ((ax_l, 0.026), (ax_r, 0.548)):
    box = ax.get_position()
    fig.text(xpos, (box.y0 + box.y1) / 2, ylab, rotation=90, ha="center", va="center",
             fontsize=11.1, color=TEXT_COL, linespacing=1.15)
    fig.text((box.x0 + box.x1) / 2, 0.048, xlab, ha="center", va="center",
             fontsize=11.1, color=TEXT_COL, linespacing=1.15)

fig.text(0.106, 0.935, r"x10$^{-2}$", fontsize=11.5, color=TEXT_COL, ha="left", va="baseline")
fig.text(0.6285, 0.95, r"x10$^{-2}$", fontsize=11.5, color=TEXT_COL, ha="left", va="baseline")

fig.savefig("out.png", dpi=100, facecolor="white")
